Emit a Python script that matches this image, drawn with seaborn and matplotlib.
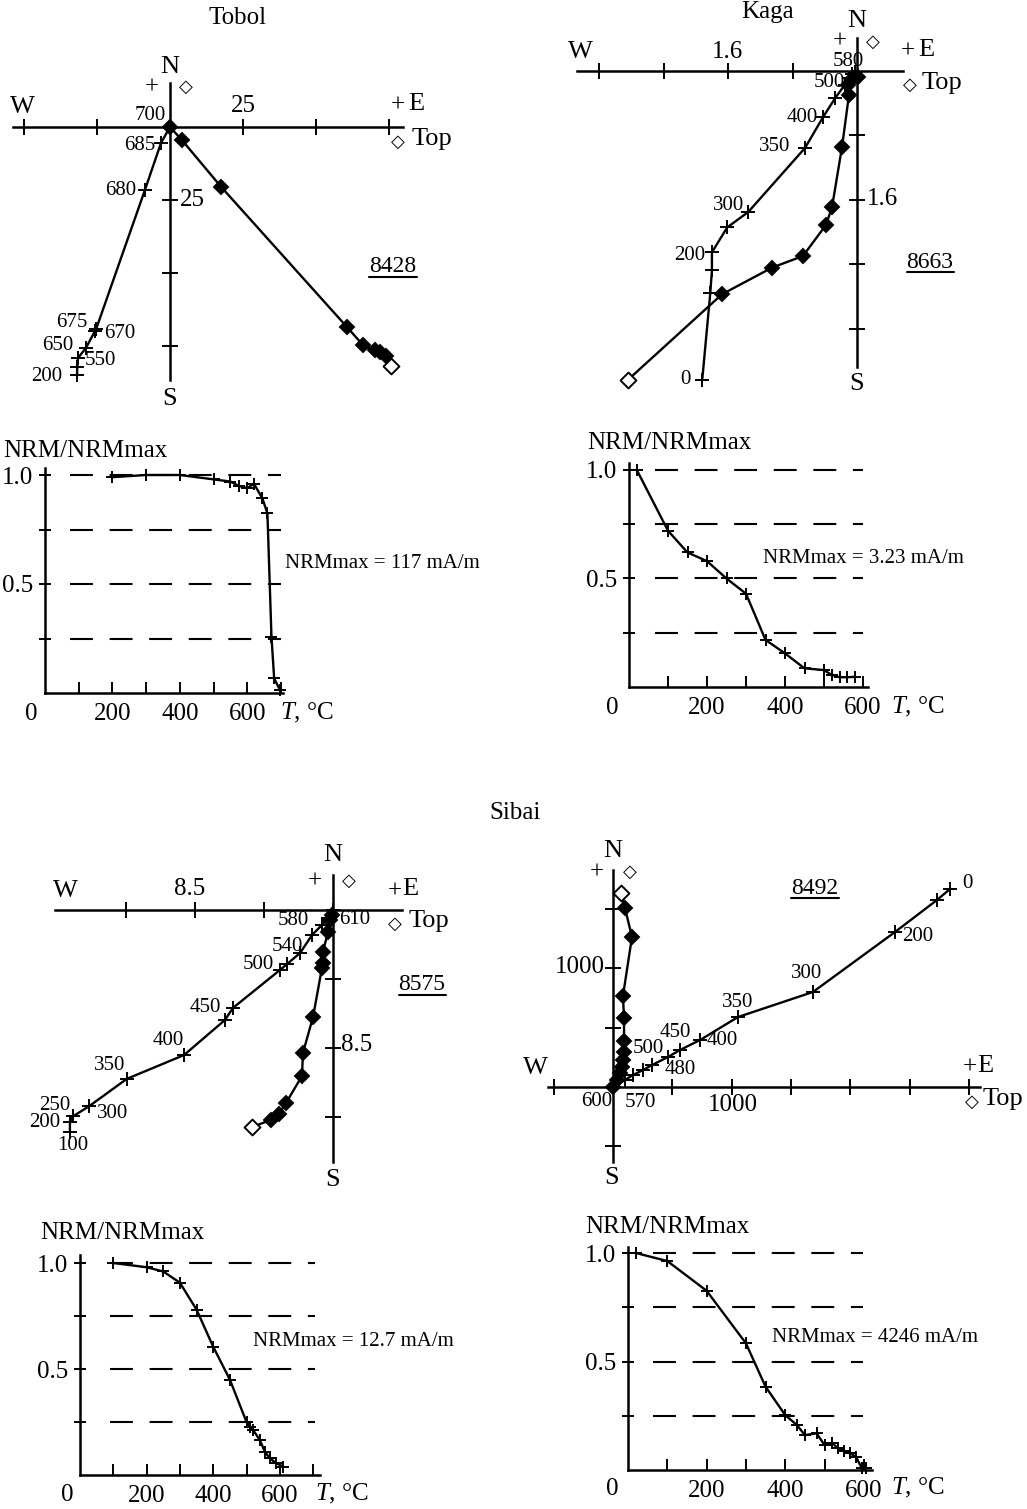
import matplotlib
matplotlib.use("Agg")
import matplotlib.pyplot as plt
from matplotlib.lines import Line2D
import seaborn as sns
import pandas as pd

W, H = 1027, 1509

sns.set_style("ticks")
plt.rcParams['font.family'] = ['Liberation Serif', 'DejaVu Sans']
plt.rcParams['mathtext.fontset'] = 'custom'
plt.rcParams['mathtext.rm'] = 'Liberation Serif'
plt.rcParams['mathtext.it'] = 'Liberation Serif:italic'
plt.rcParams['axes.edgecolor'] = 'black'
plt.rcParams['xtick.color'] = 'black'
plt.rcParams['ytick.color'] = 'black'
plt.rcParams['text.color'] = 'black'

# ---------------- data ----------------
# Tobol, sample 8428 (mA/m)
tobol_temps = ['200', '', '550', '650', '670', '675', '680', '685', '700']
tobol_h_x = [-31.8, -31.8, -31.5, -28.8, -25.7, -25.3, -8.6, -3.1, 0.0]
tobol_h_y = [-84.9, -82.2, -79.1, -75.7, -69.9, -69.2, -21.6, -5.5, 0.0]
tobol_v_x = [75.8, 74.0, 71.9, 70.2, 66.1, 60.6, 17.5, 4.1, 0.0]
tobol_v_y = [-82.0, -78.4, -77.1, -76.4, -74.7, -68.5, -20.5, -4.5, 0.0]
tobol_T = [200, 300, 400, 500, 550, 575, 600, 620, 645, 660, 672, 680, 697]
tobol_nrm = [0.99, 1.0, 1.0, 0.98, 0.97, 0.95, 0.94, 0.96, 0.893, 0.824, 0.258, 0.067, 0.014]

# Kaga, sample 8663 (mA/m)
kaga_temps = ['0', '', '', '200', '', '300', '350', '400', '', '500', '', '580', '']
kaga_h_x = [-1.92, -1.82, -1.80, -1.80, -1.61, -1.35, -0.645, -0.42, -0.27, -0.15, -0.10, -0.06, -0.025]
kaga_h_y = [-3.83, -2.75, -2.47, -2.25, -1.94, -1.75, -0.955, -0.57, -0.335, -0.17, -0.09, -0.04, -0.012]
kaga_v_x = [-2.84, -1.675, -1.055, -0.67, -0.385, -0.31, -0.186, -0.10, -0.11, -0.05, 0.012]
kaga_v_y = [-3.83, -2.77, -2.44, -2.295, -1.91, -1.69, -0.943, -0.30, -0.17, -0.087, -0.074]
kaga_T = [20, 100, 150, 200, 250, 300, 350, 400, 450, 500, 520, 540, 560, 580]
kaga_nrm = [1.0, 0.72, 0.62, 0.58, 0.50, 0.43, 0.217, 0.155, 0.086, 0.078, 0.055, 0.045, 0.045, 0.047]

# Sibai, sample 8575 (mA/m)
s8575_temps = ['100', '200', '250', '300', '350', '400', '450', '', '500', '', '540', '', '580', '', '610']
s8575_h_x = [-16.2, -16.2, -16.0, -15.0, -12.7, -9.17, -6.65, -6.16, -3.26, -2.83, -2.03, -1.29, -0.68, -0.31, 0.0]
s8575_h_y = [-13.67, -13.05, -12.7, -12.07, -10.4, -8.93, -6.77, -6.03, -3.69, -3.33, -2.65, -1.54, -0.92, -0.49, 0.0]
s8575_v_x = [-4.99, -3.82, -3.33, -2.89, -1.91, -1.85, -1.23, -0.68, -0.62, -0.62, -0.31, -0.18, -0.06]
s8575_v_y = [-13.36, -12.93, -12.56, -11.88, -10.22, -8.8, -6.59, -3.57, -3.26, -2.59, -1.35, -0.62, -0.31]
s8575_T = [100, 200, 250, 300, 350, 400, 450, 500, 510, 520, 540, 555, 570, 590, 610]
s8575_nrm = [1.0, 0.98, 0.96, 0.907, 0.78, 0.605, 0.45, 0.25, 0.228, 0.212, 0.165, 0.11, 0.079, 0.055, 0.04]

# Sibai, sample 8492 (mA/m)
s8492_temps = ['0', '', '200', '300', '350', '400', '450', '480', '500', '', '', '570', '600']
s8492_h_x = [2841, 2732, 2378, 1686, 1054, 734, 565, 464, 329, 253, 169, 101, 0]
s8492_h_y = [1669, 1577, 1307, 801, 590, 396, 312, 253, 185, 143, 101, 59, 0]
s8492_v_x = [67, 101, 160, 84, 93, 93, 93, 84, 76, 59, 34, 0]
s8492_v_y = [1636, 1509, 1265, 767, 582, 388, 295, 228, 169, 118, 59, 0]
s8492_T = [20, 100, 200, 300, 350, 400, 430, 450, 480, 500, 520, 535, 550, 565, 580, 595, 605]
s8492_nrm = [1.0, 0.963, 0.826, 0.584, 0.384, 0.253, 0.207, 0.161, 0.169, 0.115, 0.123, 0.10,
             0.089, 0.077, 0.061, 0.008, 0.008]

nrm_levels = [0.25, 0.5, 0.75, 1.0]

# ---------------- helpers ----------------
fig = plt.figure(figsize=(W / 100, H / 100), dpi=100)
fig.patch.set_facecolor('white')


def ftext(x, y, s, size, ha='center', va='center', **kw):
    return fig.text(x / W, 1 - y / H, s, fontsize=size, ha=ha, va=va, **kw)


def px_axes(x0, y0, x1, y1):
    ax = fig.add_axes([x0 / W, 1 - y1 / H, (x1 - x0) / W, (y1 - y0) / H])
    ax.set_facecolor('none')
    return ax


def draw_path(ax, xs, ys, marker, ms, open_first=False):
    df = pd.DataFrame({'x': xs, 'y': ys})
    kw = {'markevery': list(range(1, len(xs)))} if open_first else {}
    sns.lineplot(data=df, x='x', y='y', sort=False, estimator=None, color='black',
                 lw=1.7, marker=marker, markersize=ms, markeredgewidth=1.4,
                 markeredgecolor='black', clip_on=False, ax=ax, **kw)
    if open_first:
        sns.scatterplot(x=xs[:1], y=ys[:1], marker='D', color='white', edgecolor='black',
                        linewidth=1.4, s=65, ax=ax, zorder=4, clip_on=False)
    ax.set(xlabel='', ylabel='')


def underlined(x, y, s, size):
    t = ftext(x, y, s, size)
    fig.canvas.draw()
    bb = t.get_window_extent()
    fig.add_artist(Line2D([bb.x0 / W, bb.x1 / W], [(bb.y0 + 1) / H] * 2,
                          color='black', lw=1.5, transform=fig.transFigure))


def zijderveld(box, origin, scale, xticks, yticks, hx, hy, vx, vy, temps, offsets):
    x0, y0, x1, y1 = box
    ox, oy = origin
    ax = px_axes(*box)
    draw_path(ax, hx, hy, '+', 10)
    draw_path(ax, vx, vy, 'D', 7.5, open_first=True)
    ax.set_xlim((x0 - ox) / scale, (x1 - ox) / scale)
    ax.set_ylim((oy - y1) / scale, (oy - y0) / scale)
    for side in ['top', 'right']:
        ax.spines[side].set_visible(False)
    ax.spines['left'].set_position(('data', 0))
    ax.spines['bottom'].set_position(('data', 0))
    for side in ['left', 'bottom']:
        ax.spines[side].set_linewidth(1.8)
    ax.set_xticks(xticks)
    ax.set_yticks(yticks)
    ax.tick_params(direction='inout', length=11, width=1.4,
                   labelbottom=False, labelleft=False)
    for xv, yv, lab, off in zip(hx, hy, temps, offsets):
        if lab:
            ax.annotate(lab, (xv, yv), xytext=off, textcoords='offset pixels',
                        ha='center', va='center', fontsize=15, annotation_clip=False)
    return ax


def nrm_panel(origin, sx, sy, xr, yt, T, nrm, tmax, dash_span):
    ox, oy = origin
    ax = px_axes(ox, yt, xr, oy)
    ax.hlines(nrm_levels, dash_span[0], dash_span[1], color='black', lw=1.5,
              linestyle=(0, (11, 8)))
    draw_path(ax, T, nrm, '+', 8)
    ax.set_xlim(0, (xr - ox) / sx)
    ax.set_ylim(0, (oy - yt) / sy)
    for side in ['top', 'right']:
        ax.spines[side].set_visible(False)
    for side in ['left', 'bottom']:
        ax.spines[side].set_linewidth(1.8)
    xt = list(range(100, tmax + 1, 100))
    ax.set_xticks(xt, [str(t) if t in (200, 400, 600) else '' for t in xt])
    ax.set_yticks(nrm_levels, ['', '0.5', '', '1.0'])
    ax.tick_params(axis='x', direction='in', length=8, width=1.4, pad=7, labelsize=18)
    ax.tick_params(axis='y', direction='inout', length=9, width=1.4, pad=4, labelsize=18)
    return ax


# ---------------- Tobol ----------------
ftext(238, 18, 'Tobol', 18)
zijderveld((13, 83, 403, 380), (170, 127), 73 / 25, [-50, -25, 25, 50, 75], [-25, -50, -75],
           tobol_h_x, tobol_h_y, tobol_v_x, tobol_v_y, tobol_temps,
           [(-30, -2), (0, 0), (22, -3), (-28, 3), (25, -2), (-24, 7), (-24, 0), (-21, -2), (-20, 11)])
ftext(170, 67, 'N', 19)
ftext(170, 399, 'S', 19)
ftext(22, 107, 'W', 19)
ftext(152, 88, '+', 18)
ftext(186, 87, '◇', 13)
ftext(243, 106, '25', 18)
ftext(192, 200, '25', 18)
ftext(398, 106, '+', 18)
ftext(416, 104, 'E', 19)
ftext(398, 142, '◇', 13)
ftext(432, 139, 'Top', 19)
underlined(393, 267, '8428', 17)

nrm_panel((45, 693), 0.337, 218, 283, 468, tobol_T, tobol_nrm, 700, (75, 700))
ftext(3, 451, 'NRM/NRMmax', 18, ha='left')
ftext(31, 714, '0', 18)
ftext(307, 713, '$T$, °C', 18)
ftext(285, 563, 'NRMmax = 117 mA/m', 15, ha='left')

# ---------------- Kaga ----------------
ftext(768, 12, 'Kaga', 18)
zijderveld((577, 38, 903, 367), (857, 71), 80.6, [-3.2, -2.4, -1.6, -0.8], [-0.8, -1.6, -2.4, -3.2],
           kaga_h_x, kaga_h_y, kaga_v_x, kaga_v_y, kaga_temps,
           [(-17, 0), (0, 0), (0, 0), (-22, -3), (0, 0), (-20, 7), (-30, 1), (-21, -1), (0, 0),
            (-16, 2), (0, 0), (-4, 13), (0, 0)])
ftext(857, 21, 'N', 19)
ftext(857, 384, 'S', 19)
ftext(580, 52, 'W', 19)
ftext(840, 42, '+', 18)
ftext(873, 42, '◇', 13)
ftext(727, 52, '1.6', 18)
ftext(882, 199, '1.6', 18)
ftext(908, 52, '+', 18)
ftext(926, 50, 'E', 19)
ftext(910, 85, '◇', 13)
ftext(942, 83, 'Top', 19)
underlined(930, 262, '8663', 17)

nrm_panel((629, 687), 0.39, 217, 868, 463, kaga_T, kaga_nrm, 600, (67, 600))
ftext(587, 443, 'NRM/NRMmax', 18, ha='left')
ftext(612, 708, '0', 18)
ftext(918, 707, '$T$, °C', 18)
ftext(763, 558, 'NRMmax = 3.23 mA/m', 15, ha='left')

# ---------------- Sibai ----------------
ftext(515, 813, 'Sibai', 18)
zijderveld((55, 875, 402, 1162), (333, 910), 16.24, [-12.75, -8.5, -4.25], [-4.25, -8.5, -12.75],
           s8575_h_x, s8575_h_y, s8575_v_x, s8575_v_y, s8575_temps,
           [(3, -13), (-25, -1), (-18, 11), (23, -7), (-17, 13), (-16, 15), (-20, 12), (0, 0),
            (-22, 5), (0, 0), (-13, 7), (0, 0), (-29, 4), (0, 0), (22, -10)])
ftext(333, 855, 'N', 19)
ftext(333, 1180, 'S', 19)
ftext(65, 891, 'W', 19)
ftext(315, 882, '+', 18)
ftext(349, 881, '◇', 13)
ftext(190, 889, '8.5', 18)
ftext(357, 1045, '8.5', 18)
ftext(395, 892, '+', 18)
ftext(410, 889, 'E', 19)
ftext(395, 924, '◇', 13)
ftext(429, 921, 'Top', 19)
underlined(422, 985, '8575', 17)

nrm_panel((80, 1475), 0.333, 212, 320, 1255, s8575_T, s8575_nrm, 700, (90, 705))
ftext(40, 1233, 'NRM/NRMmax', 18, ha='left')
ftext(67, 1495, '0', 18)
ftext(342, 1494, '$T$, °C', 18)
ftext(253, 1342, 'NRMmax = 12.7 mA/m', 15, ha='left')

# ---------------- Sibai 8492 ----------------
zijderveld((548, 870, 980, 1162), (613, 1087), 0.1186, [-500, 500, 1000, 1500, 2000, 2500, 3000],
           [1500, 1000, 500, -500],
           s8492_h_x, s8492_h_y, s8492_v_x, s8492_v_y, s8492_temps,
           [(17, 6), (0, 0), (23, -5), (-6, 19), (0, 15), (22, 0), (-5, 17), (12, -13), (-4, 17),
            (0, 0), (0, 0), (15, -22), (-16, -15)])
ftext(613, 851, 'N', 19)
ftext(612, 1178, 'S', 19)
ftext(535, 1068, 'W', 19)
ftext(597, 873, '+', 18)
ftext(630, 872, '◇', 13)
ftext(733, 1105, '1000', 18)
ftext(580, 967, '1000', 18)
ftext(970, 1068, '+', 18)
ftext(985, 1066, 'E', 19)
ftext(972, 1102, '◇', 13)
ftext(983, 1099, 'Top', 19, ha='left')
underlined(815, 888, '8492', 17)

nrm_panel((628, 1470), 0.393, 217, 872, 1247, s8492_T, s8492_nrm, 600, (64, 597))
ftext(585, 1227, 'NRM/NRMmax', 18, ha='left')
ftext(612, 1489, '0', 18)
ftext(918, 1488, '$T$, °C', 18)
ftext(772, 1337, 'NRMmax = 4246 mA/m', 15, ha='left')

fig.savefig('out.png', dpi=100)
